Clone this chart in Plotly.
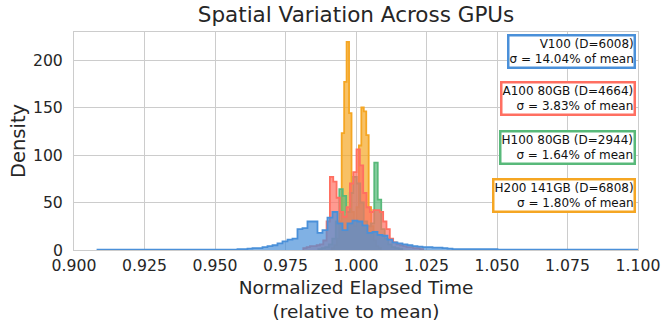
import plotly.graph_objects as go

# ---------------- data ----------------
# V100 histogram (density), bins start / width, counts
v100_start = 0.90833
v100_width = 0.001773
v100_density = ([0.3] * 20 + [0.5] * 8 +
                [1, 1, 1.5, 2, 2, 3, 4, 5, 7, 9, 11, 12,
                 22, 23, 30, 30, 18, 21, 34, 40, 28, 21, 28, 31, 30, 26,
                 18, 19, 16, 15, 11, 8, 7, 6, 5, 4, 3.5, 3, 3, 2.5, 2.5, 2, 1.5] +
                [1] * 9 + [0.4] * 28)

a100_start = 0.98131
a100_width = 0.00118
a100_density = [2, 3, 4, 4, 5, 6, 10, 30, 77, 72, 55, 40, 35, 45, 70, 82, 106, 89,
                60, 45, 40, 42, 42, 40, 30, 22, 12, 8, 6, 5, 4, 3, 3, 2, 2, 1]

h100_start = 0.98663
h100_width = 0.00124
h100_density = [1, 2, 3, 6, 12, 30, 64, 57, 40, 60, 77, 70, 50, 30, 25, 28, 92, 53,
                22, 12, 6, 3, 2, 1]

h200_start = 0.99145
h200_width = 0.00087
h200_density = [2, 5, 12, 30, 123, 177, 219, 144, 40, 25, 45, 110, 150, 146, 121,
                45, 25, 10, 4, 2]

series_names = ["H200 141GB", "H100 80GB", "A100 80GB", "V100"]
legend_labels = ["V100 (D=6008)<br>σ = 14.04% of mean",
                 "A100 80GB (D=4664)<br>σ = 3.83% of mean",
                 "H100 80GB (D=2944)<br>σ = 1.64% of mean",
                 "H200 141GB (D=6808)<br>σ = 1.80% of mean"]
x_ticks = [0.900, 0.925, 0.950, 0.975, 1.000, 1.025, 1.050, 1.075, 1.100]
y_ticks = [0, 50, 100, 150, 200]

colors = {"V100": "#4A90D9", "A100 80GB": "#FF6F61",
          "H100 80GB": "#58B97A", "H200 141GB": "#F5A623"}


def rgba(hexc, a):
    h = hexc.lstrip("#")
    r, g, b = int(h[0:2], 16), int(h[2:4], 16), int(h[4:6], 16)
    return f"rgba({r},{g},{b},{a})"


def step_xy(start, width, vals):
    edges = [start + i * width for i in range(len(vals) + 1)]
    xs = [edges[0]] + edges
    ys = [0] + list(vals) + [0]
    return xs, ys


data = {
    "H200 141GB": (h200_start, h200_width, h200_density),
    "H100 80GB": (h100_start, h100_width, h100_density),
    "A100 80GB": (a100_start, a100_width, a100_density),
    "V100": (v100_start, v100_width, v100_density),
}

fig = go.Figure()
for name in series_names:
    s, w, v = data[name]
    xs, ys = step_xy(s, w, v)
    fig.add_trace(go.Scatter(
        x=xs, y=ys, mode="lines", line_shape="hv",
        line=dict(color=colors[name], width=1.8),
        fill="tozeroy", fillcolor=rgba(colors[name], 0.7),
        name=name, showlegend=False, hoverinfo="skip"))

font_family = "DejaVu Sans"
txt = "#262626"
grid = "#cccccc"

fig.update_layout(
    width=663, height=322,
    margin=dict(l=74, r=25, t=32, b=72),
    paper_bgcolor="white", plot_bgcolor="white",
    font=dict(family=font_family, color=txt, size=15),
    title=dict(text="Spatial Variation Across GPUs", x=0.537, xanchor="center",
               xref="container", yref="container",
               y=0.955, yanchor="middle", font=dict(size=21.5, color=txt)),
    xaxis=dict(range=[0.9, 1.1], tickvals=x_ticks,
               ticktext=[f"{t:.3f}" for t in x_ticks],
               showgrid=True, gridcolor=grid, gridwidth=1,
               showline=True, linecolor=grid, linewidth=1, mirror=True,
               zeroline=False, ticks="", ticklabelstandoff=1,
               tickfont=dict(size=15.7), automargin=False,
               title=dict(text="Normalized Elapsed Time<br>(relative to mean)",
                          font=dict(size=18.5), standoff=8)),
    yaxis=dict(range=[0, 229.5], tickvals=y_ticks,
               showgrid=True, gridcolor=grid, gridwidth=1,
               showline=True, linecolor=grid, linewidth=1, mirror=True,
               zeroline=False, ticks="", ticklabelstandoff=7,
               tickfont=dict(size=15.7), automargin=False,
               title=dict(text="Density", font=dict(size=19.5), standoff=2)),
)

legend_colors = [colors["V100"], colors["A100 80GB"], colors["H100 80GB"], colors["H200 141GB"]]
legend_y = [0.911, 0.693, 0.470, 0.248]
for lab, c, yy in zip(legend_labels, legend_colors, legend_y):
    fig.add_annotation(
        xref="paper", yref="paper", x=0.996, y=yy, xanchor="right", yanchor="middle",
        text=lab, showarrow=False, align="right",
        font=dict(size=12, color="#111111", family=font_family),
        bgcolor="white", bordercolor=c, borderwidth=2.5, borderpad=0)

# remove the browser's default 8px body margin so the figure sits at the page origin
fig.write_html("out.html", config={"displayModeBar": False},
               post_script="document.body.style.margin='0px';")
